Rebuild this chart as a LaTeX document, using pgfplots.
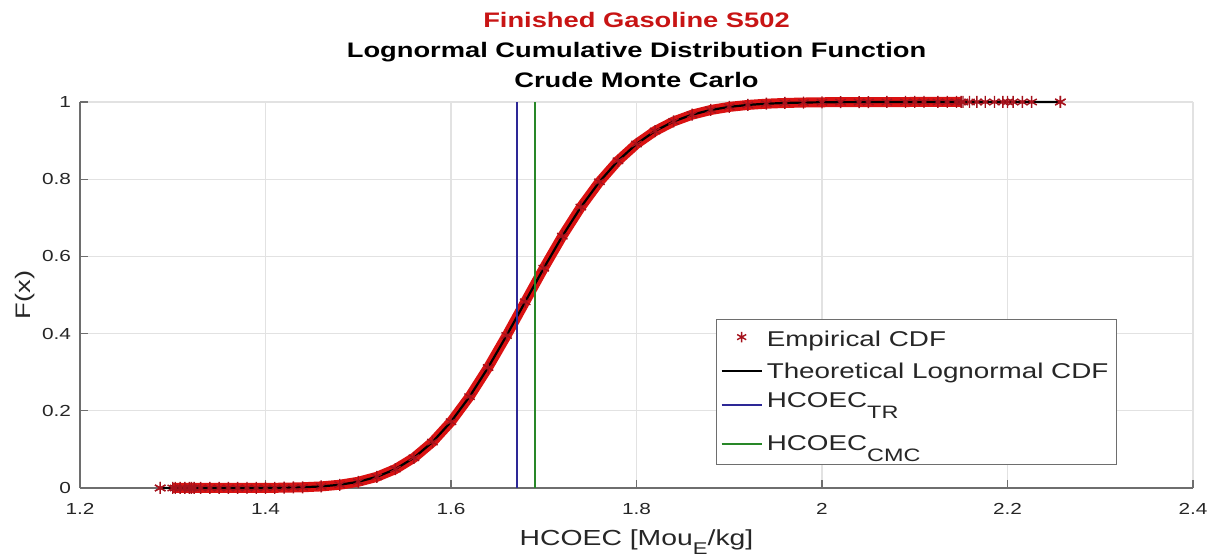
\documentclass[border=0pt]{standalone}
\usepackage{fontspec}
\setmainfont{Liberation Sans}[FakeStretch=1.3]
\usepackage{pgfplots}
\usepackage{pgfplotstable}
\pgfplotsset{compat=1.18}

\definecolor{empred}{RGB}{218,18,18}
\definecolor{mkred}{RGB}{165,18,28}
\definecolor{trblue}{RGB}{45,40,150}
\definecolor{cmcgreen}{RGB}{40,135,40}
\definecolor{gridgray}{RGB}{226,226,226}
\definecolor{axgray}{RGB}{110,110,110}
\definecolor{txt}{RGB}{38,38,38}
\definecolor{titlered}{RGB}{200,20,20}

\newcommand\lsub[1]{\raisebox{-5.5pt}{\fontsize{9}{10}\selectfont #1}}
\newcommand\xsub[1]{\raisebox{-4.5pt}{\fontsize{8.5}{10}\selectfont #1}}

\pgfplotstableread{
x F
1.2865 0.0000
1.30 0.0000
1.32 0.0000
1.34 0.0000
1.36 0.0000
1.38 0.0001
1.40 0.0003
1.42 0.0008
1.44 0.0019
1.46 0.0041
1.48 0.0084
1.50 0.0161
1.52 0.0289
1.54 0.0489
1.56 0.0783
1.58 0.1189
1.60 0.1717
1.62 0.2366
1.64 0.3120
1.66 0.3952
1.68 0.4824
1.70 0.5695
1.72 0.6524
1.74 0.7277
1.76 0.7932
1.78 0.8477
1.80 0.8913
1.82 0.9248
1.84 0.9496
1.86 0.9672
1.88 0.9793
1.90 0.9873
1.92 0.9924
1.94 0.9956
1.96 0.9975
1.98 0.9986
2.00 0.9993
2.05 0.9999
2.10 1.0000
2.15 1.0000
2.20 1.0000
2.257 1.0000
}\cdf

\pgfplotstableread{
x F
1.2865 0.0000
1.3027 0.0000
1.308 0.0000
1.313 0.0000
1.318 0.0000
1.323 0.0000
1.33 0.0000
1.35 0.0000
1.37 0.0000
1.39 0.0002
1.41 0.0005
1.43 0.0013
2.02 0.9996
2.04 0.9998
2.07 1.0000
2.09 1.0000
2.11 1.0000
2.125 1.0000
2.135 1.0000
2.145 1.0000
2.152 1.0000
2.159 1.0000
2.167 1.0000
2.176 1.0000
2.186 1.0000
2.195 1.0000
2.206 1.0000
2.216 1.0000
2.226 1.0000
2.257 1.0000
}\tails

\begin{document}
\begin{tikzpicture}
\begin{axis}[
  at={(0,0)}, anchor=south west,
  width=556.5pt, height=193pt, scale only axis,
  xmin=1.2, xmax=2.4, ymin=0, ymax=1,
  clip=false,
  xtick={1.2,1.4,1.6,1.8,2,2.2,2.4},
  xticklabels={1.2,1.4,1.6,1.8,2,2.2,2.4},
  ytick={0,0.2,0.4,0.6,0.8,1},
  yticklabels={0,0.2,0.4,0.6,0.8,1},
  axis x line*=bottom, axis y line*=left,
  axis line style={-, axgray, line width=0.7pt},
  tick align=inside, major tick length=4pt,
  tick style={axgray, line width=0.6pt},
  xmajorgrids, ymajorgrids,
  grid style={gridgray, line width=0.6pt},
  ticklabel style={font=\fontsize{8}{9}\selectfont, text=txt},
  xticklabel style={yshift=-4pt},
  yticklabel style={xshift=-1pt},
  xlabel={HCOEC [Mou\xsub{E}/kg]},
  xlabel style={at={(axis description cs:0.5,0)}, anchor=base, yshift=-28.5pt, font=\fontsize{10.9}{12}\selectfont, text=txt},
  ylabel={F(x)},
  ylabel style={at={(axis description cs:0,0.5)}, anchor=center, yshift=27.5pt, font=\fontsize{10.5}{12}\selectfont, text=txt},
  legend style={at={(rel axis cs:0.5714,0.4378)}, anchor=north west,
    draw=axgray, line width=0.6pt, fill=white,
    font=\fontsize{10.7}{12}\selectfont, text=txt,
    legend cell align=left, row sep=0pt,
    inner xsep=2pt, inner ysep=0pt,
    nodes={inner ysep=0pt}},
  legend image code/.code={\draw[#1] (0pt,0pt) -- (20pt,0pt);},
]
\addplot[empred, line width=5pt, forget plot, restrict x to domain=1.30:2.16] table[x=x,y=F] {\cdf};
\addplot[only marks, mark=asterisk, mark size=3pt, mkred, line width=0.7pt,
  legend image code/.code={\draw[mark=asterisk, mark size=2.6pt, mkred, line width=0.7pt] plot coordinates {(10pt,0pt)};}] table[x=x,y=F] {\cdf};
\addlegendentry[text height=13.5pt, text depth=4pt]{Empirical CDF}
\addplot[only marks, mark=asterisk, mark size=3pt, mkred, line width=0.7pt, forget plot] table[x=x,y=F] {\tails};
\addplot[black, line width=1.1pt] table[x=x,y=F] {\cdf};
\addlegendentry[text height=12pt, text depth=4pt]{Theoretical Lognormal CDF}
\addplot[trblue, line width=1pt] coordinates {(1.671,0) (1.671,1)};
\addlegendentry[text height=10.5pt, text depth=8pt]{HCOEC\lsub{TR}}
\addplot[cmcgreen, line width=1pt] coordinates {(1.691,0) (1.691,1)};
\addlegendentry[text height=13.5pt, text depth=7pt]{HCOEC\lsub{CMC}}

\node[anchor=base, font=\bfseries\fontsize{10.5}{12}\selectfont, text=titlered] at (rel axis cs:0.5,1) [yshift=37pt] {Finished Gasoline S502};
\node[anchor=base, font=\bfseries\fontsize{10.5}{12}\selectfont, text=black] at (rel axis cs:0.5,1) [yshift=22pt] {Lognormal Cumulative Distribution Function};
\node[anchor=base, font=\bfseries\fontsize{10.5}{12}\selectfont, text=black] at (rel axis cs:0.5,1) [yshift=7pt] {Crude Monte Carlo};
\end{axis}
\pgfresetboundingbox
\path[use as bounding box] (-40pt,-34pt) rectangle (567.5pt,244pt);
\end{tikzpicture}
\end{document}
